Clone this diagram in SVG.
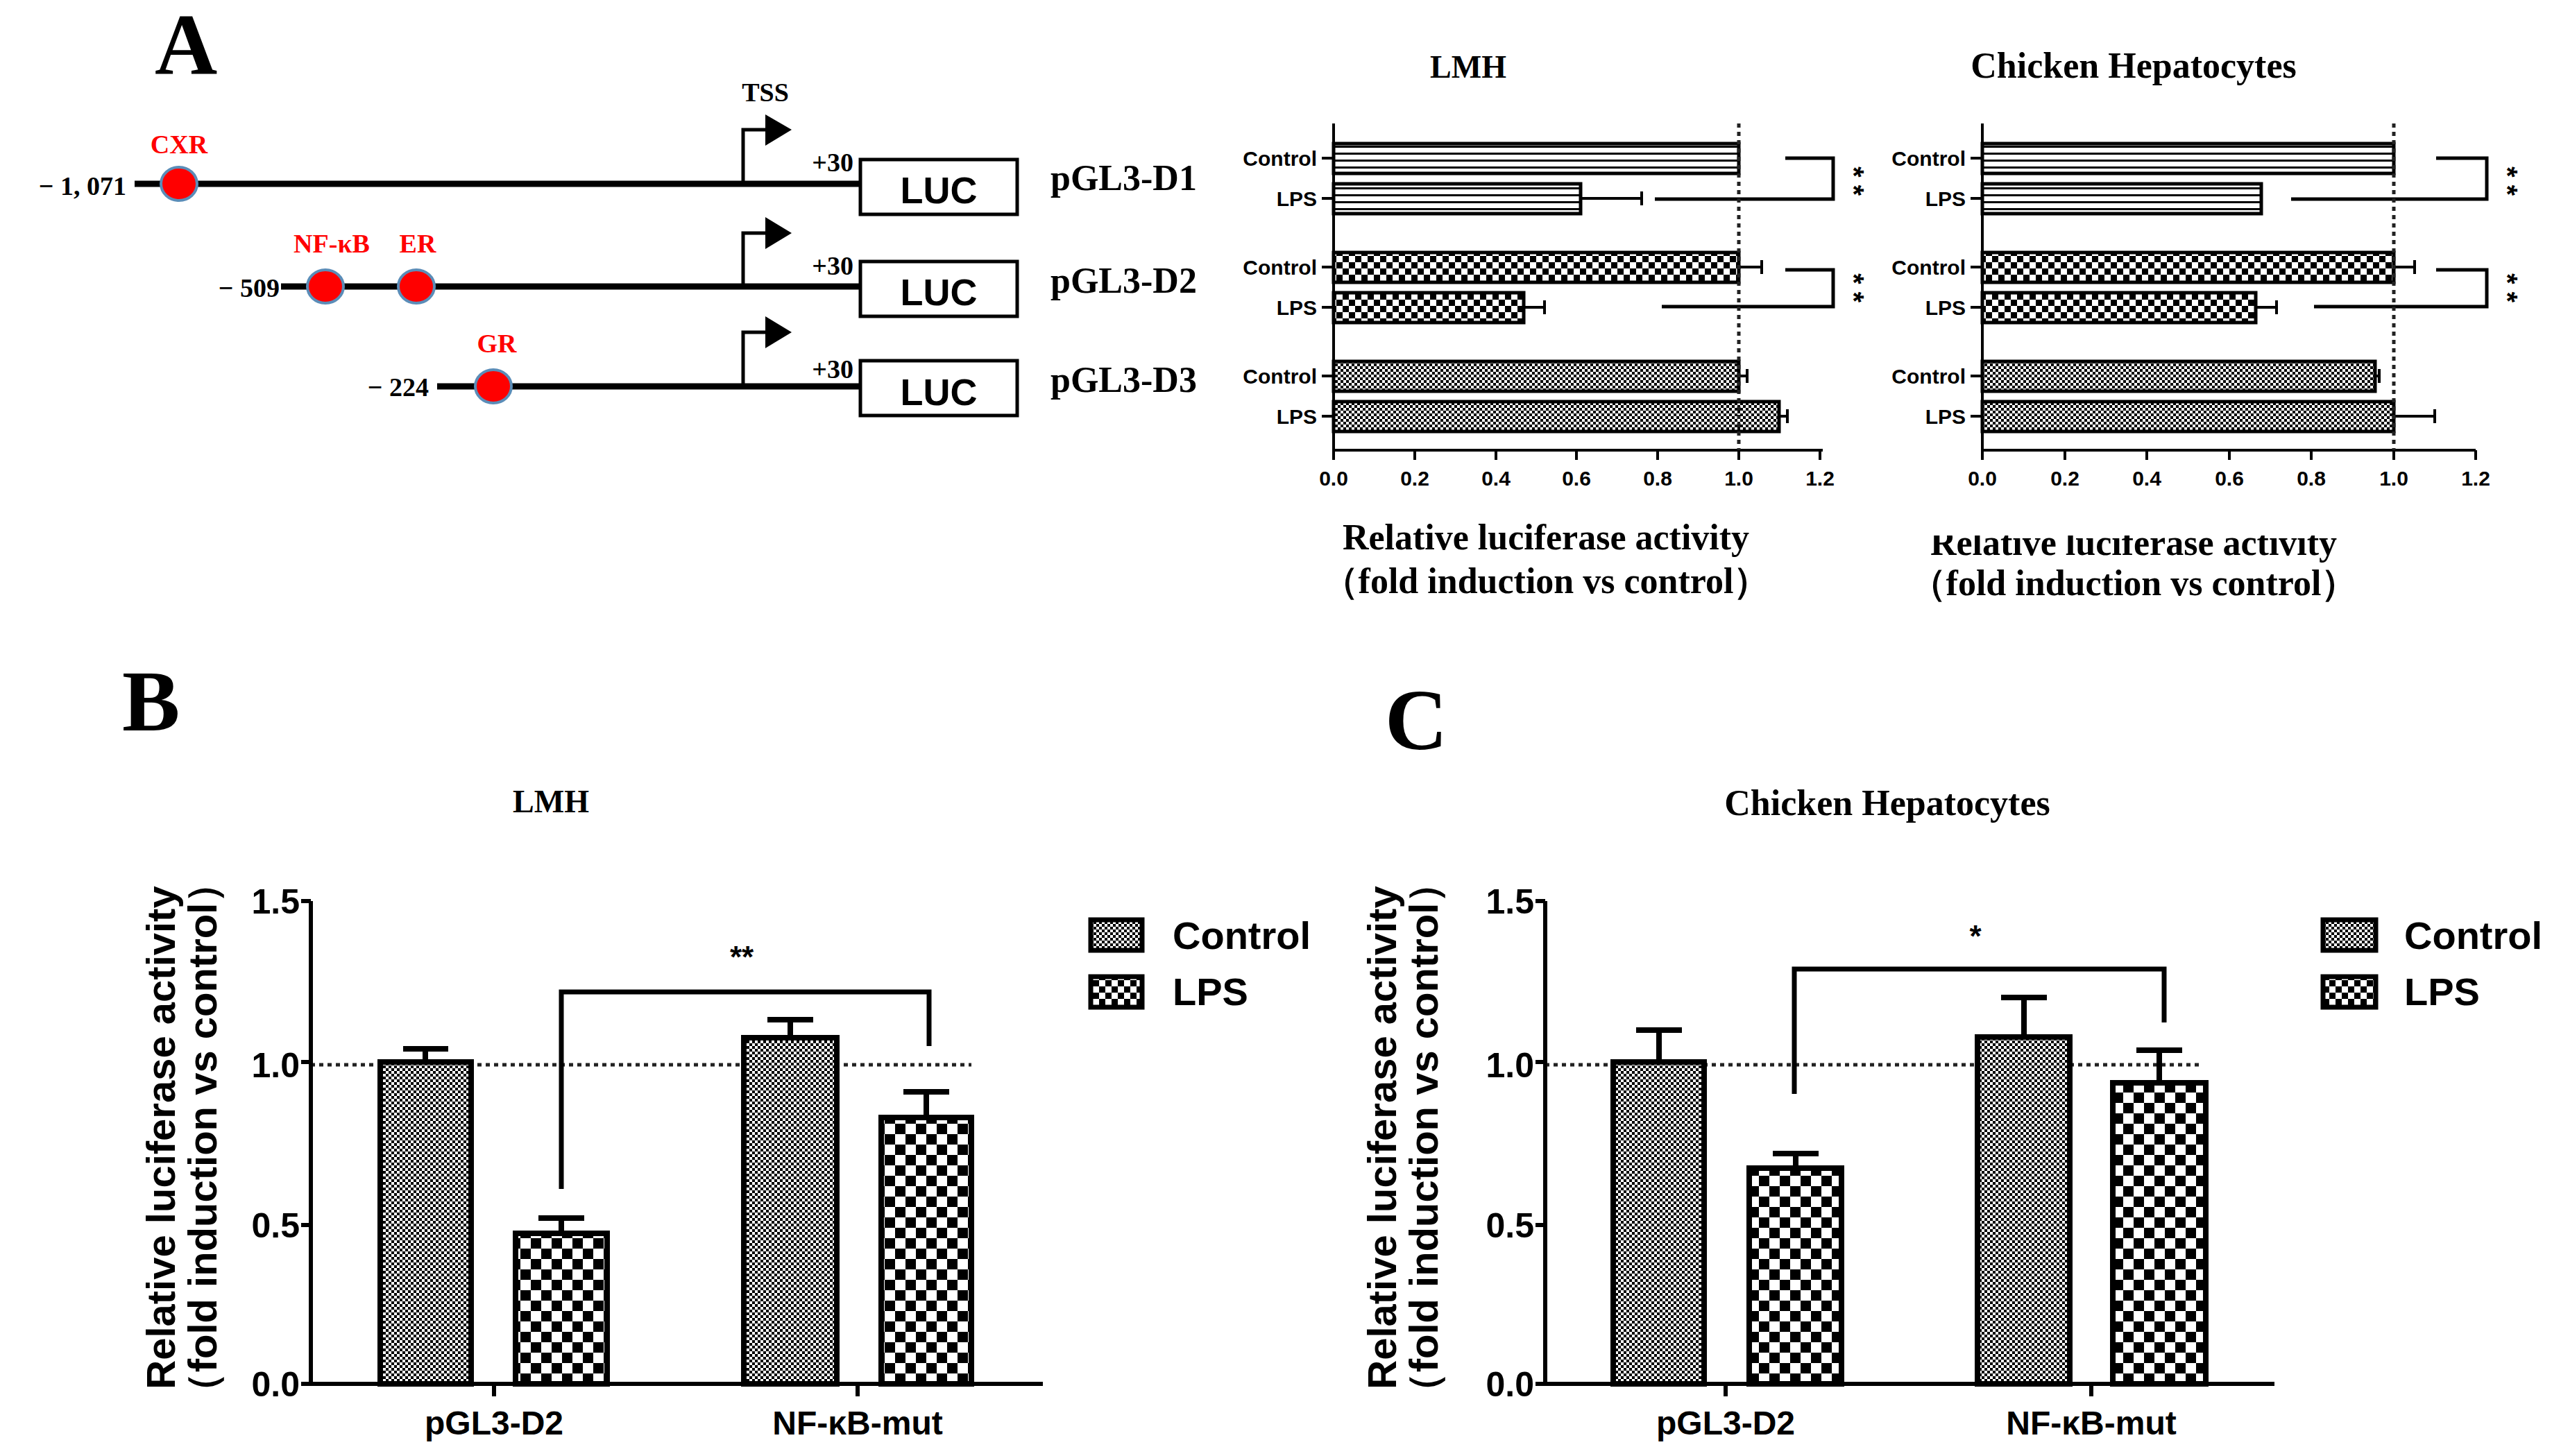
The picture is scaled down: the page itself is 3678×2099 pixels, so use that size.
<svg xmlns="http://www.w3.org/2000/svg" width="3678" height="2099" viewBox="0 0 3678 2099">
<style>
.t{font-family:"Liberation Serif",serif;font-weight:bold;fill:#000}
.s{font-family:"Liberation Sans",Arial,sans-serif;font-weight:bold;fill:#000}
.r{fill:#f00}
.ln{stroke:#000;fill:none}
.dot{stroke:#222;stroke-width:5;stroke-dasharray:6 6;fill:none}
.site{fill:#f00;stroke:#5b8db8;stroke-width:4}
</style>
<defs>
<pattern id="fine" patternUnits="userSpaceOnUse" width="8" height="8"><rect width="8" height="8" fill="#fff"/><rect width="4" height="4" fill="#000"/><rect x="4" y="4" width="4" height="4" fill="#000"/></pattern>
<pattern id="med" patternUnits="userSpaceOnUse" width="18" height="18"><rect width="18" height="18" fill="#fff"/><rect width="9" height="9" fill="#000"/><rect x="9" y="9" width="9" height="9" fill="#000"/></pattern>
<pattern id="big" patternUnits="userSpaceOnUse" width="30" height="30"><rect width="30" height="30" fill="#fff"/><rect width="15" height="15" fill="#000"/><rect x="15" y="15" width="15" height="15" fill="#000"/></pattern>
<pattern id="stripe" patternUnits="userSpaceOnUse" width="10" height="10"><rect width="10" height="10" fill="#fff"/><rect y="0" width="10" height="3" fill="#000"/></pattern>
<clipPath id="clipxl"><rect x="2700" y="772" width="800" height="120"/></clipPath>
</defs>
<rect width="3678" height="2099" fill="#fff"/>

<!-- Panel A schematic -->
<text class="t" x="223" y="106" font-size="125">A</text>
<text class="t" x="1103" y="146" font-size="38" text-anchor="middle">TSS</text>

<g id="d1">
<line class="ln" x1="194" y1="265" x2="1241" y2="265" stroke-width="9"/>
<polyline class="ln" points="1071,265 1071,187 1105,187" stroke-width="5"/>
<polygon points="1103,165 1141,187 1103,210"/>
<ellipse class="site" cx="258" cy="265" rx="26" ry="24"/>
<text class="t r" x="258" y="221" font-size="38" text-anchor="middle">CXR</text>
<text class="t" x="182" y="281" font-size="38" text-anchor="end">− 1, 071</text>
<text class="t" x="1230" y="247" font-size="38" text-anchor="end">+30</text>
<rect x="1240" y="230" width="226" height="79" fill="#fff" stroke="#000" stroke-width="5"/>
<text class="s" x="1353" y="293" font-size="54" text-anchor="middle" font-weight="normal">LUC</text>
<text class="t" x="1514" y="274" font-size="52">pGL3-D1</text>
</g>
<g id="d2">
<line class="ln" x1="405" y1="413" x2="1241" y2="413" stroke-width="9"/>
<polyline class="ln" points="1071,413 1071,336 1105,336" stroke-width="5"/>
<polygon points="1103,313 1141,336 1103,359"/>
<ellipse class="site" cx="469" cy="413" rx="26" ry="24"/>
<ellipse class="site" cx="600" cy="413" rx="26" ry="24"/>
<text class="t r" x="478" y="364" font-size="38" text-anchor="middle">NF-κB</text>
<text class="t r" x="602" y="364" font-size="38" text-anchor="middle">ER</text>
<text class="t" x="403" y="428" font-size="38" text-anchor="end">− 509</text>
<text class="t" x="1230" y="396" font-size="38" text-anchor="end">+30</text>
<rect x="1240" y="377" width="226" height="79" fill="#fff" stroke="#000" stroke-width="5"/>
<text class="s" x="1353" y="440" font-size="54" text-anchor="middle" font-weight="normal">LUC</text>
<text class="t" x="1514" y="422" font-size="52">pGL3-D2</text>
</g>
<g id="d3">
<line class="ln" x1="630" y1="557" x2="1241" y2="557" stroke-width="9"/>
<polyline class="ln" points="1071,557 1071,479 1105,479" stroke-width="5"/>
<polygon points="1103,456 1141,479 1103,502"/>
<ellipse class="site" cx="711" cy="557" rx="26" ry="24"/>
<text class="t r" x="716" y="508" font-size="38" text-anchor="middle">GR</text>
<text class="t" x="618" y="571" font-size="38" text-anchor="end">− 224</text>
<text class="t" x="1230" y="545" font-size="38" text-anchor="end">+30</text>
<rect x="1240" y="520" width="226" height="79" fill="#fff" stroke="#000" stroke-width="5"/>
<text class="s" x="1353" y="584" font-size="54" text-anchor="middle" font-weight="normal">LUC</text>
<text class="t" x="1514" y="565" font-size="52">pGL3-D3</text>
</g>

<!-- Panel A LMH chart -->
<g id="chartA1">
<text class="t" x="2116" y="112" font-size="46" text-anchor="middle">LMH</text>
<g stroke="#000" stroke-width="5">
<rect x="1922" y="207" width="584" height="43" fill="url(#stripe)"/>
<rect x="1922" y="265" width="356" height="43" fill="url(#stripe)"/>
<rect x="1922" y="364" width="584" height="43" fill="url(#med)"/>
<rect x="1922" y="422" width="274" height="43" fill="url(#med)"/>
<rect x="1922" y="521" width="584" height="43" fill="url(#fine)"/>
<rect x="1922" y="579" width="642" height="43" fill="url(#fine)"/>
</g>
<g class="ln" stroke-width="4">
<path d="M2278,286H2366M2366,276V296M2506,385H2539M2539,375V395M2196,443H2226M2226,433V453M2506,542H2518M2518,532V552M2564,600H2576M2576,590V610"/>
<path d="M2573,228H2642V287H2385M2573,389H2642V442H2395" stroke-width="5"/>
<path d="M1922,178V649H2627M1905,228H1922M1905,286H1922M1905,385H1922M1905,443H1922M1905,542H1922M1905,600H1922"/>
<path d="M1922,649v14M2039,649v14M2156,649v14M2272,649v14M2389,649v14M2506,649v14M2623,649v14"/>
</g>
<line class="dot" x1="2506" y1="178" x2="2506" y2="649"/>
<g class="s" font-size="30" text-anchor="end" font-weight="normal">
<text x="1898" y="239">Control</text><text x="1898" y="297">LPS</text>
<text x="1898" y="396">Control</text><text x="1898" y="454">LPS</text>
<text x="1898" y="553">Control</text><text x="1898" y="611">LPS</text>
</g>
<g class="s" font-size="30" text-anchor="middle">
<text x="1922" y="700">0.0</text><text x="2039" y="700">0.2</text><text x="2156" y="700">0.4</text><text x="2272" y="700">0.6</text><text x="2389" y="700">0.8</text><text x="2506" y="700">1.0</text><text x="2623" y="700">1.2</text>
</g>
<text class="s" font-size="40" font-weight="normal" transform="translate(2658,261) rotate(90)" text-anchor="middle">* *</text>
<text class="s" font-size="40" font-weight="normal" transform="translate(2658,415) rotate(90)" text-anchor="middle">* *</text>
<text class="t" x="2228" y="792" font-size="52" text-anchor="middle">Relative luciferase activity</text>
<text class="t" x="2228" y="855" font-size="52" text-anchor="middle">（fold induction vs control）</text>
</g>

<!-- Panel A Chicken Hepatocytes chart -->
<g id="chartA2">
<text class="t" x="3075" y="112" font-size="52" text-anchor="middle">Chicken Hepatocytes</text>
<g stroke="#000" stroke-width="5">
<rect x="2857" y="207" width="593" height="43" fill="url(#stripe)"/>
<rect x="2857" y="265" width="402" height="43" fill="url(#stripe)"/>
<rect x="2857" y="364" width="593" height="43" fill="url(#med)"/>
<rect x="2857" y="422" width="394" height="43" fill="url(#med)"/>
<rect x="2857" y="521" width="566" height="43" fill="url(#fine)"/>
<rect x="2857" y="579" width="593" height="43" fill="url(#fine)"/>
</g>
<g class="ln" stroke-width="4">
<path d="M3450,385H3480M3480,375V395M3251,443H3281M3281,433V453M3423,542H3429M3429,532V552M3450,600H3509M3509,590V610"/>
<path d="M3511,228H3584V287H3302M3511,389H3584V442H3335" stroke-width="5"/>
<path d="M2857,178V649H3568M2840,228H2857M2840,286H2857M2840,385H2857M2840,443H2857M2840,542H2857M2840,600H2857"/>
<path d="M2857,649v14M2976,649v14M3094,649v14M3213,649v14M3331,649v14M3450,649v14M3568,649v14"/>
</g>
<line class="dot" x1="3450" y1="178" x2="3450" y2="649"/>
<g class="s" font-size="30" text-anchor="end" font-weight="normal">
<text x="2833" y="239">Control</text><text x="2833" y="297">LPS</text>
<text x="2833" y="396">Control</text><text x="2833" y="454">LPS</text>
<text x="2833" y="553">Control</text><text x="2833" y="611">LPS</text>
</g>
<g class="s" font-size="30" text-anchor="middle">
<text x="2857" y="700">0.0</text><text x="2976" y="700">0.2</text><text x="3094" y="700">0.4</text><text x="3213" y="700">0.6</text><text x="3331" y="700">0.8</text><text x="3450" y="700">1.0</text><text x="3568" y="700">1.2</text>
</g>
<text class="s" font-size="40" font-weight="normal" transform="translate(3600,261) rotate(90)" text-anchor="middle">* *</text>
<text class="s" font-size="40" font-weight="normal" transform="translate(3600,415) rotate(90)" text-anchor="middle">* *</text>
<text class="t" x="3075" y="800" font-size="52" text-anchor="middle" clip-path="url(#clipxl)">Relative luciferase activity</text>
<text class="t" x="3075" y="858" font-size="52" text-anchor="middle">（fold induction vs control）</text>
</g>

<!-- Panel B -->
<g id="panelB">
<text class="t" x="176" y="1053" font-size="125">B</text>
<text class="t" x="794" y="1171" font-size="46" text-anchor="middle">LMH</text>
<line class="dot" x1="448" y1="1535" x2="1400" y2="1535"/>
<g stroke="#000" stroke-width="8">
<rect x="548" y="1531" width="131" height="464" fill="url(#fine)"/>
<rect x="743" y="1778" width="132" height="217" fill="url(#big)"/>
<rect x="1072" y="1496" width="134" height="499" fill="url(#fine)"/>
<rect x="1270" y="1611" width="130" height="384" fill="url(#big)"/>
</g>
<g class="ln" stroke-width="8">
<path d="M613,1531V1512M581,1512H646M809,1778V1756M776,1756H842M1139,1496V1470M1106,1470H1172M1335,1611V1574M1302,1574H1368"/>
<path d="M809,1714V1430H1339V1508" stroke-width="7"/>
<path d="M448,1299V1995H1503M434,1299H448M434,1531H448M434,1766H448M434,1995H448M712,1995v18M1236,1995v18" stroke-width="6"/>
</g>
<g class="s" font-size="50" text-anchor="end">
<text x="432" y="1317">1.5</text><text x="432" y="1553">1.0</text><text x="432" y="1784">0.5</text><text x="432" y="2013">0.0</text>
</g>
<text class="s" x="1069" y="1395" font-size="44" text-anchor="middle">**</text>
<g class="s" font-size="48" text-anchor="middle">
<text x="712" y="2068">pGL3-D2</text><text x="1236" y="2068">NF-κB-mut</text>
</g>
<g class="s" font-size="58" text-anchor="middle">
<text transform="translate(252,1640) rotate(-90)">Relative luciferase activity</text>
<text transform="translate(312,1640) rotate(-90)">（fold induction vs control）</text>
</g>
<rect x="1572" y="1326" width="74" height="44" fill="url(#fine)" stroke="#000" stroke-width="7"/>
<rect x="1572" y="1408" width="74" height="44" fill="url(#med)" stroke="#000" stroke-width="7"/>
<g class="s" font-size="56" font-weight="normal"><text x="1690" y="1368">Control</text><text x="1690" y="1449">LPS</text></g>
</g>

<!-- Panel C -->
<g id="panelC">
<text class="t" x="1996" y="1080" font-size="125">C</text>
<text class="t" x="2720" y="1175" font-size="52" text-anchor="middle">Chicken Hepatocytes</text>
<line class="dot" x1="2227" y1="1535" x2="3170" y2="1535"/>
<g stroke="#000" stroke-width="8">
<rect x="2325" y="1531" width="131" height="464" fill="url(#fine)"/>
<rect x="2521" y="1684" width="133" height="311" fill="url(#big)"/>
<rect x="2850" y="1495" width="133" height="500" fill="url(#fine)"/>
<rect x="3045" y="1561" width="134" height="434" fill="url(#big)"/>
</g>
<g class="ln" stroke-width="8">
<path d="M2391,1531V1485M2358,1485H2424M2588,1684V1663M2555,1663H2621M2917,1495V1438M2884,1438H2950M3112,1561V1514M3079,1514H3145"/>
<path d="M2586,1577V1397H3119V1474" stroke-width="7"/>
<path d="M2227,1299V1995H3278M2213,1299H2227M2213,1531H2227M2213,1766H2227M2213,1995H2227M2487,1995v18M3014,1995v18" stroke-width="6"/>
</g>
<g class="s" font-size="50" text-anchor="end">
<text x="2211" y="1317">1.5</text><text x="2211" y="1553">1.0</text><text x="2211" y="1784">0.5</text><text x="2211" y="2013">0.0</text>
</g>
<text class="s" x="2847" y="1365" font-size="44" text-anchor="middle">*</text>
<g class="s" font-size="48" text-anchor="middle">
<text x="2487" y="2068">pGL3-D2</text><text x="3014" y="2068">NF-κB-mut</text>
</g>
<g class="s" font-size="58" text-anchor="middle">
<text transform="translate(2012,1640) rotate(-90)">Relative luciferase activity</text>
<text transform="translate(2072,1640) rotate(-90)">（fold induction vs control）</text>
</g>
<rect x="3348" y="1326" width="76" height="44" fill="url(#fine)" stroke="#000" stroke-width="7"/>
<rect x="3348" y="1408" width="76" height="44" fill="url(#med)" stroke="#000" stroke-width="7"/>
<g class="s" font-size="56" font-weight="normal"><text x="3465" y="1368">Control</text><text x="3465" y="1449">LPS</text></g>
</g>
</svg>
